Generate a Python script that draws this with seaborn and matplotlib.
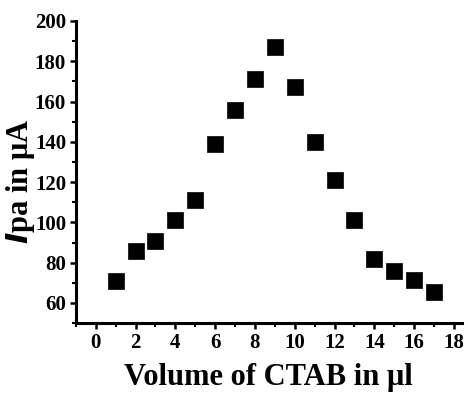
import matplotlib
matplotlib.use("Agg")
import matplotlib.pyplot as plt
from matplotlib.ticker import MultipleLocator
import seaborn as sns
import pandas as pd

volume = [1, 2, 3, 4, 5, 6, 7, 8, 9, 10, 11, 12, 13, 14, 15, 16, 17]
ipa = [71, 86, 91, 101, 111, 139, 156, 171, 187, 167, 140, 121, 101, 82, 76, 71.5, 65.5]

df = pd.DataFrame({"volume": volume, "ipa": ipa})

sns.set_theme(style="ticks")
plt.rcParams['font.family'] = ['Liberation Serif', 'DejaVu Serif']
plt.rcParams['font.weight'] = 'bold'
plt.rcParams['text.color'] = 'black'
plt.rcParams['axes.labelcolor'] = 'black'

fig = plt.figure(figsize=(4.68, 3.96), dpi=100)
ax = fig.add_axes([0.162, 0.184, 0.825, 0.763])
sns.scatterplot(data=df, x="volume", y="ipa", marker="s", s=120, color="black",
                edgecolor="black", linewidth=0.5, ax=ax, legend=False)

ax.set_xlim(-1, 18.4)
ax.set_ylim(50, 200)
ax.xaxis.set_major_locator(MultipleLocator(2))
ax.xaxis.set_minor_locator(MultipleLocator(1))
ax.yaxis.set_major_locator(MultipleLocator(20))
ax.yaxis.set_minor_locator(MultipleLocator(10))
ax.set_yticks([60, 80, 100, 120, 140, 160, 180, 200])

for s in ["top", "right"]:
    ax.spines[s].set_visible(False)
for s in ["left", "bottom"]:
    ax.spines[s].set_linewidth(2.2)
    ax.spines[s].set_color("black")

ax.tick_params(axis="both", which="major", direction="out", length=4, width=1.8,
               labelsize=15, colors="black", pad=3)
ax.tick_params(axis="both", which="minor", direction="out", length=3, width=1.5, colors="black")
for lab in ax.get_xticklabels() + ax.get_yticklabels():
    lab.set_fontweight("bold")

ax.set_xlabel("Volume of CTAB in μl", fontsize=22, fontweight="bold", labelpad=7, color="black")
ax.set_ylabel(r"$\mathbfit{I}$pa in μA", fontsize=22, fontweight="bold", labelpad=0, color="black")
ax.yaxis.set_label_coords(-0.10, 0.47)

fig.savefig("out.png", dpi=100)
